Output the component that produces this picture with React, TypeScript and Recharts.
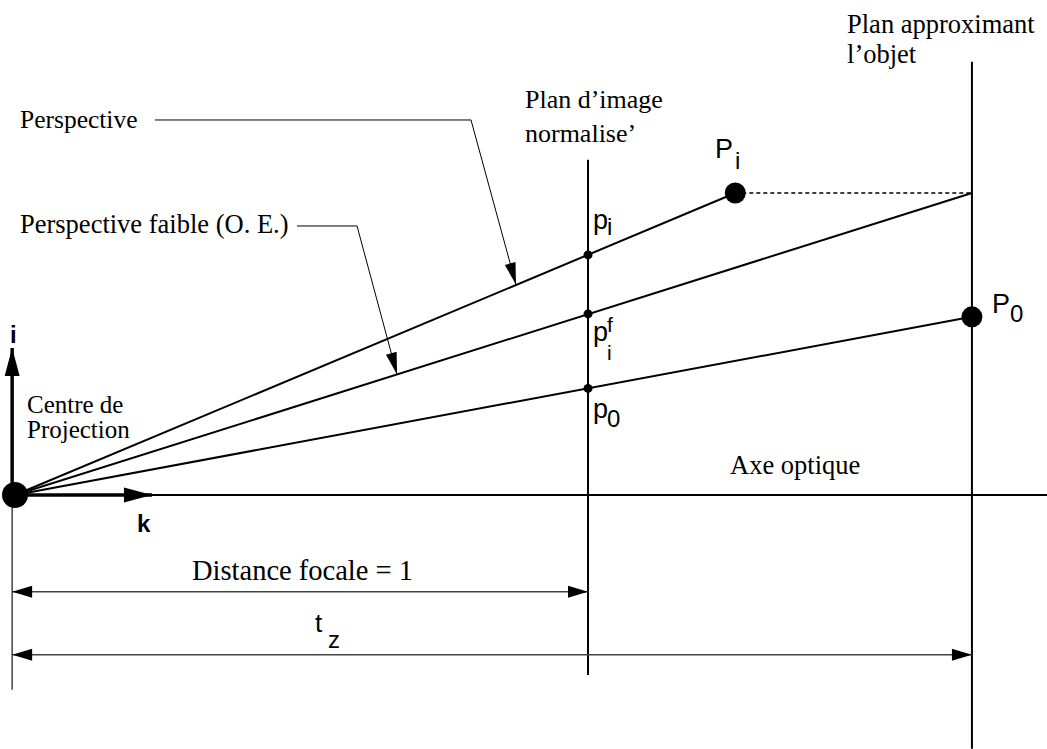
import { ComposedChart, XAxis, YAxis, ReferenceLine, ReferenceDot, Scatter } from 'recharts'

// units: distance focale = 1, origin = centre de projection, y up
const X_DOMAIN = [-0.0262, 1.801]
const Y_DOMAIN = [-0.4433, 0.8639]

const objectPoints = [
  { name: 'O', x: 0, y: 0 },
  { name: 'P_i', x: 1.257, y: 0.527 },
  { name: 'P_0', x: 1.67, y: 0.311 },
]

const imagePoints = [
  { name: 'p_i', x: 1, y: 0.419 },
  { name: 'p_i^f', x: 1, y: 0.316 },
  { name: 'p_0', x: 1, y: 0.186 },
]

const rays = [
  { name: 'perspective', x1: 0, y1: 0, x2: 1.257, y2: 0.527 },
  { name: 'faible', x1: 0, y1: 0, x2: 1.67, y2: 0.527 },
  { name: 'p0', x1: 0, y1: 0, x2: 1.67, y2: 0.311 },
]

const planes = [
  { name: 'image', x: 1, y1: 0.585, y2: -0.314 },
  { name: 'objet', x: 1.67, y1: 0.756, y2: -0.443 },
]

const axisLines = [
  { name: 'optique', x1: 0, y1: 0, x2: 1.801, y2: 0 },
  { name: 'gauche', x1: -0.005, y1: 0, x2: -0.005, y2: -0.34 },
]

const basis = [
  { name: 'i', x1: -0.005, y1: 0, x2: -0.005, y2: 0.2565 },
  { name: 'k', x1: 0, y1: 0, x2: 0.239, y2: 0 },
]

const dimensions = [
  { name: 'focale', y: -0.169, x1: -0.005, x2: 1 },
  { name: 'tz', y: -0.279, x1: -0.005, x2: 1.67 },
]

const projection = [{ name: 'Pi-plan', x1: 1.257, y1: 0.527, x2: 1.67, y2: 0.527 }]

const leaders = [
  { name: 'perspective', pts: [[0.2443, 0.6545], [0.7958, 0.6545], [0.8743, 0.367]] },
  { name: 'faible', pts: [[0.4921, 0.4695], [0.5969, 0.4695], [0.6667, 0.2104]] },
]

const serifLabels = [
  { text: 'Perspective', x: 0.0087, y: 0.6405, size: 25.5 },
  { text: 'Perspective faible (O. E.)', x: 0.0087, y: 0.4572, size: 26.5 },
  { text: 'Centre de', x: 0.0209, y: 0.1431, size: 25 },
  { text: 'Projection', x: 0.0209, y: 0.0995, size: 25 },
  { text: 'Plan d\u2019image', x: 0.89, y: 0.6754, size: 26 },
  { text: 'normalise\u2019', x: 0.89, y: 0.6161, size: 26 },
  { text: 'Plan approximant', x: 1.452, y: 0.8063, size: 26.5 },
  { text: 'l\u2019objet', x: 1.452, y: 0.7539, size: 26.5 },
  { text: 'Axe optique', x: 1.2478, y: 0.0366, size: 26.5 },
  { text: 'Distance focale = 1', x: 0.3089, y: -0.1483, size: 28.5 },
]

// sans labels: main glyph + subscript / superscript parts
const sansLabels = [
  { text: 'P', x: 1.2216, y: 0.5881, size: 27 },
  { text: 'i', x: 1.2565, y: 0.5689, size: 24 },
  { text: 'P', x: 1.7051, y: 0.3176, size: 27 },
  { text: '0', x: 1.7365, y: 0.3019, size: 24 },
  { text: 'p', x: 1.0087, y: 0.4642, size: 27 },
  { text: 'i', x: 1.0332, y: 0.4538, size: 24 },
  { text: 'p', x: 1.0087, y: 0.2688, size: 27 },
  { text: 'f', x: 1.0332, y: 0.2845, size: 21 },
  { text: 'i', x: 1.0332, y: 0.2356, size: 21 },
  { text: 'p', x: 1.0087, y: 0.1344, size: 27 },
  { text: '0', x: 1.0332, y: 0.1187, size: 24 },
  { text: 't', x: 0.5236, y: -0.2391, size: 26 },
  { text: 'z', x: 0.5462, y: -0.267, size: 24 },
]

const boldLabels = [
  { text: 'i', x: -0.0087, y: 0.2653 },
  { text: 'k', x: 0.2129, y: -0.0646 },
]

const DOT_R: Record<string, number> = { O: 13, P_i: 10.5, P_0: 10.5 }

const SERIF = '"Liberation Serif", "Times New Roman", serif'
const SANS = '"Liberation Sans", Arial, sans-serif'

function head(x: number, y: number, fx: number, fy: number, len: number, half: number) {
  // tip at (x,y), pointing away from (fx,fy)
  const dx = x - fx
  const dy = y - fy
  const d = Math.hypot(dx, dy) || 1
  const ux = dx / d
  const uy = dy / d
  const bx = x - ux * len
  const by = y - uy * len
  return `${x},${y} ${bx - uy * half},${by + ux * half} ${bx + uy * half},${by - ux * half}`
}

function arrowShape(opts: { start?: boolean; end?: boolean; len: number; half: number; width: number; color: string }) {
  return (p: any) => {
    const { x1, y1, x2, y2 } = p
    return (
      <g>
        <line x1={x1} y1={y1} x2={x2} y2={y2} stroke={opts.color} strokeWidth={opts.width} />
        {opts.end && <polygon points={head(x2, y2, x1, y1, opts.len, opts.half)} fill="#000" />}
        {opts.start && <polygon points={head(x1, y1, x2, y2, opts.len, opts.half)} fill="#000" />}
      </g>
    )
  }
}

const textShape = (text: string, style: any) => (p: any) => (
  <text x={p.cx} y={p.cy} {...style}>
    {text}
  </text>
)

export default function App() {
  return (
    <div style={{ position: 'absolute', left: 0, top: 0, background: '#fff' }}>
      <ComposedChart width={1047} height={749} margin={{ top: 0, right: 0, bottom: 0, left: 0 }}>
        <XAxis type="number" dataKey="x" domain={X_DOMAIN} hide allowDataOverflow />
        <YAxis type="number" dataKey="y" domain={Y_DOMAIN} hide allowDataOverflow />

        {axisLines.map((l) => (
          <ReferenceLine
            key={l.name}
            segment={[{ x: l.x1, y: l.y1 }, { x: l.x2, y: l.y2 }]}
            stroke={l.name === 'gauche' ? '#444' : '#000'}
            strokeWidth={l.name === 'gauche' ? 1.5 : 2}
          />
        ))}
        {planes.map((l) => (
          <ReferenceLine
            key={l.name}
            segment={[{ x: l.x, y: l.y1 }, { x: l.x, y: l.y2 }]}
            stroke="#000"
            strokeWidth={2}
          />
        ))}
        {rays.map((l) => (
          <ReferenceLine
            key={l.name}
            segment={[{ x: l.x1, y: l.y1 }, { x: l.x2, y: l.y2 }]}
            stroke="#000"
            strokeWidth={2}
          />
        ))}
        {projection.map((l) => (
          <ReferenceLine
            key={l.name}
            segment={[{ x: l.x1, y: l.y1 }, { x: l.x2, y: l.y2 }]}
            stroke="#000"
            strokeWidth={1.5}
            strokeDasharray="4 3"
          />
        ))}
        {basis.map((l) => (
          <ReferenceLine
            key={l.name}
            segment={[{ x: l.x1, y: l.y1 }, { x: l.x2, y: l.y2 }]}
            shape={arrowShape({ end: true, len: 28, half: 7.5, width: 3.5, color: '#000' })}
          />
        ))}
        {dimensions.map((l) => (
          <ReferenceLine
            key={l.name}
            segment={[{ x: l.x1, y: l.y }, { x: l.x2, y: l.y }]}
            shape={arrowShape({ start: true, end: true, len: 20, half: 6, width: 1.5, color: '#444' })}
          />
        ))}
        {leaders.map((ld) =>
          ld.pts.slice(1).map((pt, i) => (
            <ReferenceLine
              key={`${ld.name}-${i}`}
              segment={[{ x: ld.pts[i][0], y: ld.pts[i][1] }, { x: pt[0], y: pt[1] }]}
              shape={arrowShape({ end: i === ld.pts.length - 2, len: 22, half: 5.5, width: 1, color: '#000' })}
            />
          ))
        )}

        <Scatter
          data={objectPoints}
          isAnimationActive={false}
          shape={(p: any) => <circle cx={p.cx} cy={p.cy} r={DOT_R[p.payload.name]} fill="#000" />}
        />
        <Scatter
          data={imagePoints}
          isAnimationActive={false}
          shape={(p: any) => <circle cx={p.cx} cy={p.cy} r={4.5} fill="#000" />}
        />

        {serifLabels.map((t) => (
          <ReferenceDot
            key={t.text}
            x={t.x}
            y={t.y}
            shape={textShape(t.text, { fontFamily: SERIF, fontSize: t.size, fill: '#000' })}
          />
        ))}
        {sansLabels.map((t, i) => (
          <ReferenceDot
            key={`s${i}`}
            x={t.x}
            y={t.y}
            shape={textShape(t.text, { fontFamily: SANS, fontSize: t.size, fill: '#000' })}
          />
        ))}
        {boldLabels.map((t) => (
          <ReferenceDot
            key={`b${t.text}`}
            x={t.x}
            y={t.y}
            shape={textShape(t.text, { fontFamily: SANS, fontSize: 24, fontWeight: 'bold', fill: '#000' })}
          />
        ))}
      </ComposedChart>
    </div>
  )
}
